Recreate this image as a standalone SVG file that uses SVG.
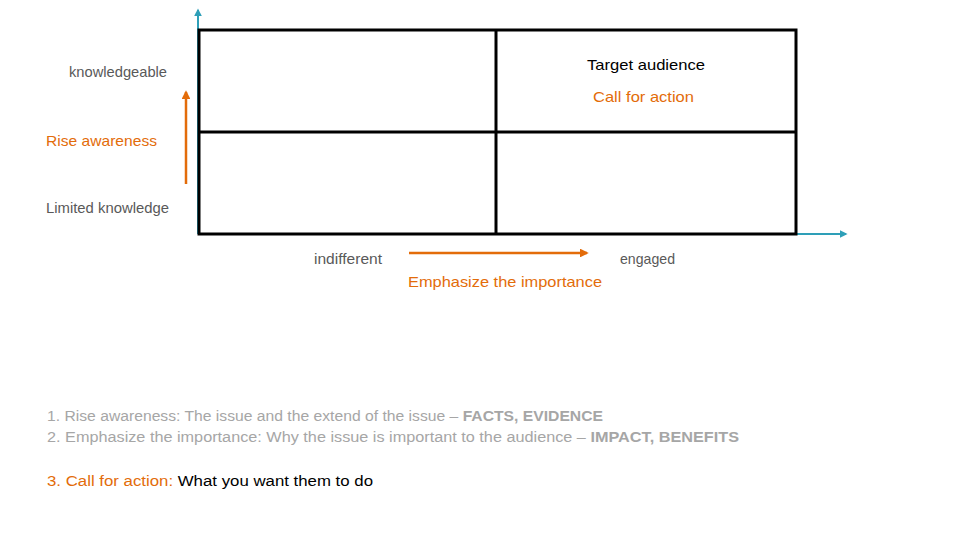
<svg xmlns="http://www.w3.org/2000/svg" width="960" height="540" viewBox="0 0 960 540">
<defs>
<style>
text{font-family:"Liberation Sans",Arial,sans-serif;font-size:15px}
.gray{fill:#595959}
.or{fill:#E36C0A}
.lt{fill:#A6A6A6;font-size:15.5px}
.b{font-weight:bold}
.grid{fill:none;stroke:#000;stroke-width:3}
.ax{stroke:#2E9FB8;stroke-width:2;fill:none}
.oa{stroke:#E36C0A;stroke-width:2.5;fill:none}
</style>
<marker id="mb" viewBox="0 0 10 10" refX="8" refY="5" markerWidth="4" markerHeight="4" orient="auto"><path d="M0,0L10,5L0,10z" fill="#2E9FB8"/></marker>
<marker id="mo" viewBox="0 0 10 10" refX="8" refY="5" markerWidth="3.5" markerHeight="3.5" orient="auto"><path d="M0,0L10,5L0,10z" fill="#E36C0A"/></marker>
</defs>
<rect width="960" height="540" fill="#fff"/>
<g id="connectors">
<line class="ax" x1="198" y1="234" x2="198" y2="10" marker-end="url(#mb)"/>
<line class="ax" x1="199" y1="234" x2="846" y2="234" marker-end="url(#mb)"/>
<line class="oa" x1="186" y1="184" x2="186" y2="92" marker-end="url(#mo)"/>
<line class="oa" x1="409" y1="253" x2="587" y2="253" marker-end="url(#mo)"/>
</g>
<g id="grid">
<rect class="grid" x="199" y="30" width="597" height="204"/>
<line class="grid" x1="496" y1="30" x2="496" y2="234"/>
<line class="grid" x1="199" y1="132" x2="796" y2="132"/>
</g>
<g id="labels">
<text class="gray" x="69" y="77" textLength="98" lengthAdjust="spacingAndGlyphs">knowledgeable</text>
<text x="587" y="70" textLength="118" lengthAdjust="spacingAndGlyphs" fill="#000">Target audience</text>
<text class="or" x="593" y="102" textLength="101" lengthAdjust="spacingAndGlyphs">Call for action</text>
<text class="or" x="46" y="146" textLength="111" lengthAdjust="spacingAndGlyphs">Rise awareness</text>
<text class="gray" x="46" y="213" textLength="123" lengthAdjust="spacingAndGlyphs">Limited knowledge</text>
<text class="gray" x="314" y="264" textLength="68" lengthAdjust="spacingAndGlyphs">indifferent</text>
<text class="gray" x="620" y="264" textLength="55" lengthAdjust="spacingAndGlyphs">engaged</text>
<text class="or" x="408" y="287" textLength="194" lengthAdjust="spacingAndGlyphs">Emphasize the importance</text>
</g>
<g id="list">
<text class="lt" x="47" y="421" textLength="556" lengthAdjust="spacingAndGlyphs">1. Rise awareness: The issue and the extend of the issue – <tspan class="b">FACTS, EVIDENCE</tspan></text>
<text class="lt" x="47" y="442" textLength="692" lengthAdjust="spacingAndGlyphs">2. Emphasize the importance: Why the issue is important to the audience – <tspan class="b">IMPACT, BENEFITS</tspan></text>
<text x="47" y="486" style="font-size:15.5px" textLength="326" lengthAdjust="spacingAndGlyphs"><tspan class="or">3. Call for action:</tspan><tspan fill="#000"> What you want them to do</tspan></text>
</g>
</svg>
